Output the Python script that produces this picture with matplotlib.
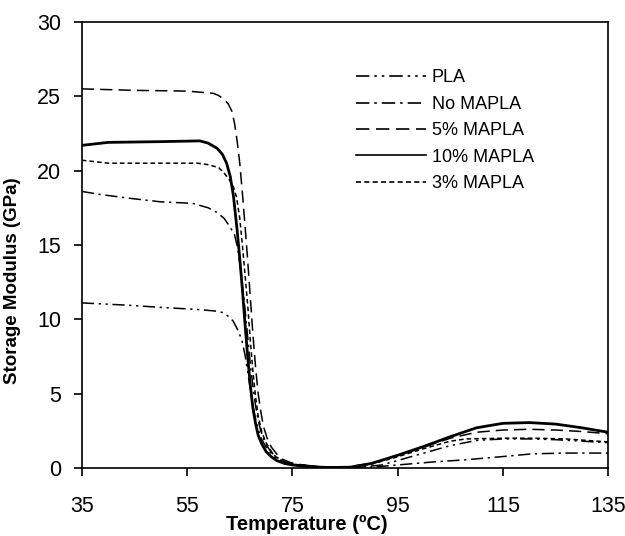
import numpy as np
import matplotlib.pyplot as plt

plt.rcParams['font.family'] = ['Liberation Sans', 'DejaVu Sans']

# Temperatur- und Moduldaten
t_pla = [35, 43.6, 50, 57.4, 60.5, 61.8, 62.8, 63.7, 64.6, 65.4, 66, 66.5, 67, 67.5, 68, 68.5, 69.2, 70, 71, 72, 73.5, 75, 80, 88,
         92, 95, 100, 105, 110, 115, 120, 125, 130, 135]
e_pla = [11.1, 10.95, 10.8, 10.65, 10.55, 10.45, 10.2, 9.9, 9.3, 8.6, 7.6, 6.5, 5.3, 4.2, 3.3, 2.6, 1.9, 1.4, 0.95, 0.6, 0.38, 0.25, 0.08, 0.05,
         0.2, 0.5, 1.0, 1.5, 1.85, 1.95, 1.95, 1.9, 1.8, 1.7]

t_no = [35, 38.4, 45, 50, 56, 59, 60.6, 62, 63, 64, 64.6, 65.2, 65.8, 66.4, 67, 67.5, 68, 68.5, 69, 69.7, 70.5, 71.5, 73, 74.5, 76, 80, 90,
        95, 101.7, 108, 114.5, 120.7, 127, 135]
e_no = [18.6, 18.4, 18.1, 17.9, 17.8, 17.5, 17.2, 16.8, 16.3, 15.7, 14.8, 13.3, 11.4, 9.2, 7, 5.5, 4.2, 3.2, 2.5, 1.8, 1.3, 0.85, 0.5, 0.3, 0.2, 0.08, 0.05,
        0.2, 0.4, 0.55, 0.75, 0.95, 1.0, 1.0]

t_5 = [35, 45, 55, 60, 61, 62, 62.8, 63.5, 64, 64.5, 65, 65.5, 66, 66.5, 67, 67.5, 68, 68.5, 69, 69.5, 70.2, 71, 72, 73, 74.5, 76, 80, 85,
       90, 95, 100, 105, 110, 115, 120, 125, 130, 135]
e_5 = [25.5, 25.4, 25.35, 25.2, 25.05, 24.8, 24.5, 24.0, 23.2, 22, 20.5, 18.5, 16.3, 14, 11.5, 9, 6.8, 5, 3.8, 2.8, 2.0, 1.4, 0.95, 0.6, 0.38, 0.25, 0.08, 0.05,
       0.3, 0.85, 1.4, 2.0, 2.4, 2.55, 2.6, 2.55, 2.45, 2.3]

t_10 = [35, 40, 50, 57.4, 59, 60.7, 61.7, 62.5, 63.2, 63.8, 64.5, 65, 65.5, 66, 66.5, 67, 67.5, 68, 68.5, 69.2, 70, 71, 72, 73.5, 75, 78, 82, 86,
        90, 95, 100, 105, 110, 115, 120, 125, 130, 135]
e_10 = [21.7, 21.9, 21.95, 22.0, 21.85, 21.5, 21.1, 20.5, 19.6, 18.3, 16, 14.1, 12, 9.7, 7.5, 5.6, 4, 3, 2.2, 1.6, 1.1, 0.75, 0.5, 0.3, 0.2, 0.08, 0.03, 0.05,
        0.3, 0.85, 1.45, 2.1, 2.7, 3.0, 3.05, 2.95, 2.7, 2.4]

t_3 = [35, 40, 50, 57, 59, 61, 62, 63, 63.8, 64.4, 65, 65.5, 66, 66.5, 67, 67.5, 68, 68.5, 69.2, 70, 71, 72, 73.5, 75, 80, 86,
       90, 95, 100, 105, 108, 115, 121, 127, 131, 135]
e_3 = [20.7, 20.5, 20.5, 20.5, 20.4, 20.2, 19.85, 19.4, 18.9, 18.2, 16.8, 15, 13, 11, 8.6, 6.5, 4.8, 3.5, 2.4, 1.7, 1.1, 0.7, 0.4, 0.25, 0.08, 0.05,
       0.25, 0.75, 1.3, 1.8, 1.95, 2.0, 2.0, 1.95, 1.85, 1.75]

fig = plt.figure(figsize=(6.25, 5.36), dpi=100)
ax = fig.add_axes([0.131, 0.127, 0.842, 0.832])

ax.plot(t_pla, e_pla, color='black', lw=1.1, ls=(0, (8, 3, 1.5, 3, 1.5, 3)), label='PLA')
ax.plot(t_no, e_no, color='black', lw=1.1, ls=(0, (8, 3, 1.5, 3)), label='No MAPLA')
ax.plot(t_5, e_5, color='black', lw=1.1, ls=(0, (8, 4)), label='5% MAPLA')
ax.plot(t_10, e_10, color='black', lw=2.0, ls='-', label='10% MAPLA')
ax.plot(t_3, e_3, color='black', lw=1.1, ls=(0, (3, 2)), label='3% MAPLA')

ax.set_xlim(35, 135)
ax.set_ylim(0, 30)
ax.set_xticks([35, 55, 75, 95, 115, 135])
ax.set_yticks([0, 5, 10, 15, 20, 25, 30])
ax.tick_params(direction='out', length=6, width=1.2, labelsize=15.5)
ax.tick_params(axis='x', pad=14)
ax.tick_params(axis='y', pad=9)
for s in ax.spines.values():
    s.set_linewidth(1.2)

ax.set_xlabel('Temperature (ºC)', fontsize=14.5, fontweight='bold', labelpad=-2)
ax.set_ylabel('Storage Modulus (GPa)', fontsize=13.5, fontweight='bold', labelpad=0)
ax.xaxis.set_label_coords(0.428, -0.105)
ax.yaxis.set_label_coords(-0.115, 0.42)

leg = ax.legend(loc='upper left', bbox_to_anchor=(0.49, 0.93), frameon=False, fontsize=13,
                handlelength=3.9, handletextpad=0.3, labelspacing=0.52)
for h in leg.get_lines():
    h.set_linewidth(1.2)

fig.savefig('out.png', dpi=100)
